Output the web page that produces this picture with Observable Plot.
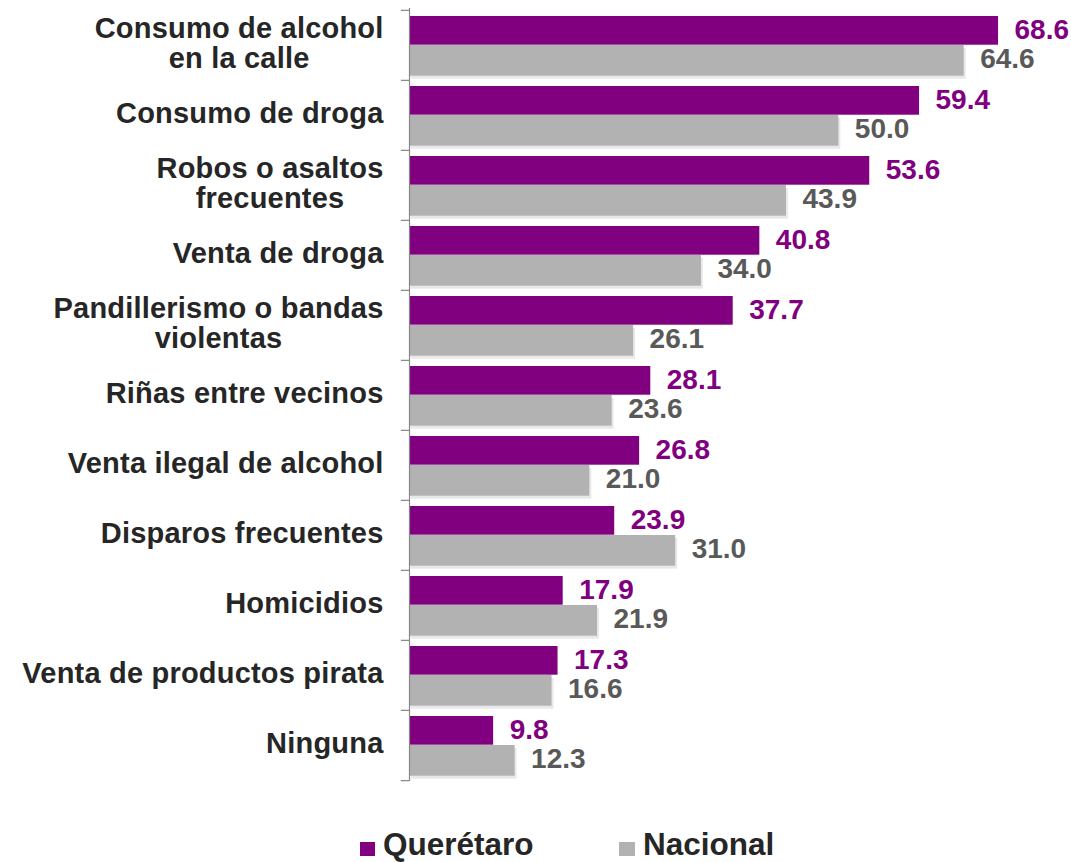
<!DOCTYPE html>
<html>
<head>
<meta charset="utf-8">
<script src="https://cdn.jsdelivr.net/npm/d3@7"></script>
<script src="https://cdn.jsdelivr.net/npm/@observablehq/plot@0.6"></script>
<style>
  body { margin: 0; background: #fff; width: 1071px; height: 862px; position: relative; overflow: hidden; font-family: "Liberation Sans", Arial, sans-serif; }
  #chart { position: absolute; left: 0; top: 0; }
  .leg { position: absolute; top: 827px; display: flex; align-items: center; font-weight: bold; font-size: 31.5px; color: #262626; line-height: 34px; }
  .sw { width: 15px; height: 14px; margin-right: 8px; margin-top: 10px; }
</style>
</head>
<body>
<div id="chart"></div>
<div class="leg" style="left:360px"><div class="sw" style="background:#800080"></div><span>Querétaro</span></div>
<div class="leg" style="left:619px"><div class="sw" style="background:#B2B2B2;width:16px"></div><span>Nacional</span></div>
<script>
const categories = [
  "Consumo de alcohol\nen la calle",
  "Consumo de droga",
  "Robos o asaltos\nfrecuentes",
  "Venta de droga",
  "Pandillerismo o bandas\nviolentas",
  "Riñas entre vecinos",
  "Venta ilegal de alcohol",
  "Disparos frecuentes",
  "Homicidios",
  "Venta de productos pirata",
  "Ninguna"
];
const queretaro = [68.6, 59.4, 53.6, 40.8, 37.7, 28.1, 26.8, 23.9, 17.9, 17.3, 9.8];
const nacional  = [64.6, 50.0, 43.9, 34.0, 26.1, 23.6, 21.0, 31.0, 21.9, 16.6, 12.3];

const qData = categories.map((c, i) => ({category: c, value: queretaro[i]}));
const nData = categories.map((c, i) => ({category: c, value: nacional[i]}));

const H = 800, MT = 8, MB = 19;
const bw = (H - MT - MB) / categories.length;

const PURPLE = "#800080", GRAY = "#B2B2B2";

const plot = Plot.plot({
  width: 1071,
  height: H,
  marginLeft: 409,
  marginRight: 18,
  marginTop: MT,
  marginBottom: MB,
  style: {fontFamily: "Liberation Sans, Arial, sans-serif", background: "#fff", overflow: "visible"},
  x: {domain: [0, 75], axis: null},
  y: {domain: categories, padding: 0, axis: null},
  marks: [
    // soft shadows
    Plot.barX(nData, {y: "category", x: "value", insetTop: 35, insetBottom: 4.3, dx: 2, dy: 3, fill: "#000", fillOpacity: 0.09}),
    Plot.barX(qData, {y: "category", x: "value", insetTop: 6, insetBottom: 35.3, fill: PURPLE}),
    Plot.barX(nData, {y: "category", x: "value", insetTop: 35, insetBottom: 4.3, fill: GRAY}),
    Plot.text(qData, {y: "category", x: "value", text: d => d.value.toFixed(1), dx: 16, dy: -15.5, textAnchor: "start", fill: PURPLE, fontSize: 28, fontWeight: "bold"}),
    Plot.text(nData, {y: "category", x: "value", text: d => d.value.toFixed(1), dx: 16, dy: 14, textAnchor: "start", fill: "#595959", fontSize: 28, fontWeight: "bold"}),
    Plot.ruleX([0], {stroke: "#868686", strokeWidth: 1.2}),
    Plot.ruleY(categories, {y: d => d, x1: -0.95, x2: 0, dy: -bw / 2, stroke: "#868686", strokeWidth: 1.2}),
    Plot.ruleY(categories.slice(-1), {y: d => d, x1: -0.95, x2: 0, dy: bw / 2, stroke: "#868686", strokeWidth: 1.2}),
    Plot.axisY({className: "ylab", tickSize: 0, tickPadding: 26, fontSize: 29, fontWeight: "bold", fill: "#262626", lineHeight: 1.04, dy: -2.5, label: null, textStroke: "none"})
  ]
});
document.getElementById("chart").appendChild(plot);

// slight tracking like the original, then center multi-line labels
plot.querySelectorAll("g.ylab text").forEach(t => {
  t.style.letterSpacing = "0.2px";
  const spans = t.querySelectorAll("tspan");
  if (spans.length > 1) {
    const w = t.getBBox().width;
    t.setAttribute("text-anchor", "middle");
    const tr = t.getAttribute("transform") || "";
    t.setAttribute("transform", tr + ` translate(${-w / 2},0)`);
  }
});
</script>
</body>
</html>
